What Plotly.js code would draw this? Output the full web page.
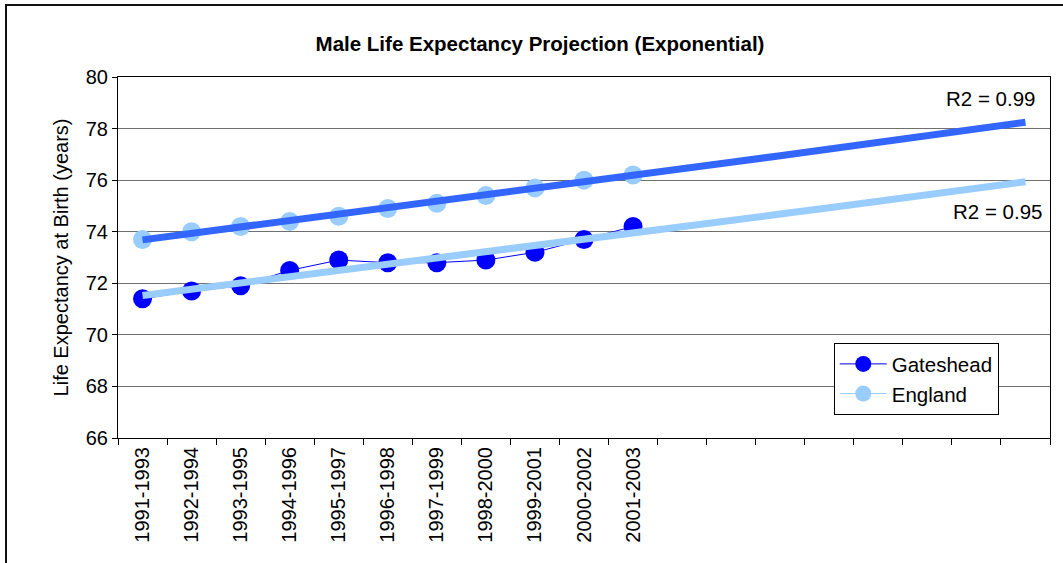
<!DOCTYPE html>
<html>
<head>
<meta charset="utf-8">
<script src="https://cdn.plot.ly/plotly-3.0.1.min.js"></script>
<style>
  html, body { margin: 0; padding: 0; overflow: hidden; background: #ffffff; }
  #wrap { position: relative; width: 1063px; height: 563px; }
  #chart { position: absolute; left: 0; top: 0; width: 1063px; height: 563px; }
  #frame { position: absolute; left: 5px; top: 4px; width: 1200px; height: 800px;
           border: 2px solid #111; pointer-events: none; }
</style>
</head>
<body>
<div id="wrap">
  <div id="chart"></div>
  <div id="frame"></div>
</div>
<script>
// ---- data ----
const periods = ['1991-1993', '1992-1994', '1993-1995', '1994-1996', '1995-1997',
                 '1996-1998', '1997-1999', '1998-2000', '1999-2001', '2000-2002', '2001-2003'];
const projectionLabels = ['', '', '', '', '', '', '', ''];   // 8 future (unlabelled) periods
const gateshead = [71.4, 71.7, 71.9, 72.5, 72.9, 72.8, 72.8, 72.9, 73.2, 73.7, 74.2];
const england   = [73.7, 74.0, 74.2, 74.4, 74.6, 74.9, 75.1, 75.4, 75.7, 76.0, 76.2];
const seriesNames = ['Gateshead', 'England'];
const r2Labels = ['R2 = 0.99', 'R2 = 0.95'];   // England trend, Gateshead trend
const yTicks = [66, 68, 70, 72, 74, 76, 78, 80];

// ---- helpers ----
const allLabels = periods.concat(projectionLabels);
const allIdx = allLabels.map((_, i) => i);
const dataIdx = periods.map((_, i) => i);

// Exponential trendline (as Excel does): fit ln(y) = ln(a) + b*x, forecast forward
function expTrend(ys, xsOut) {
  const n = ys.length;
  const xs = ys.map((_, i) => i);
  const ls = ys.map(v => Math.log(v));
  const mx = xs.reduce((s, v) => s + v, 0) / n;
  const ml = ls.reduce((s, v) => s + v, 0) / n;
  let sxy = 0, sxx = 0;
  for (let i = 0; i < n; i++) { sxy += (xs[i] - mx) * (ls[i] - ml); sxx += (xs[i] - mx) ** 2; }
  const b = sxy / sxx;
  const lnA = ml - b * mx;
  return xsOut.map(x => Math.exp(lnA + b * x));
}

const FONT = 'Liberation Sans, Arial, sans-serif';

const traces = [
  {
    x: dataIdx, y: gateshead, name: seriesNames[0], type: 'scatter', mode: 'lines+markers',
    line: { color: '#0000FF', width: 1 },
    marker: { color: '#0000FF', size: 19 }
  },
  {
    x: dataIdx, y: england, name: seriesNames[1], type: 'scatter', mode: 'lines+markers',
    line: { color: '#99CCFF', width: 1 },
    marker: { color: '#99CCFF', size: 19 }
  },
  {
    x: allIdx, y: expTrend(england, allIdx), type: 'scatter', mode: 'lines',
    line: { color: '#3366FF', width: 7 }, showlegend: false, hoverinfo: 'skip'
  },
  {
    x: allIdx, y: expTrend(gateshead, allIdx), type: 'scatter', mode: 'lines',
    line: { color: '#99CCFF', width: 7 }, showlegend: false, hoverinfo: 'skip'
  }
];

const layout = {
  width: 1063, height: 563,
  margin: { l: 118, r: 13, t: 77, b: 125, pad: 0 },
  paper_bgcolor: 'rgba(0,0,0,0)',
  plot_bgcolor: '#ffffff',
  font: { family: FONT, color: '#000000', size: 20 },
  title: {
    text: 'Male Life Expectancy Projection (Exponential)',
    font: { family: FONT, size: 20.5, weight: 'bold', color: '#000000' },
    xref: 'container', x: 0.508, xanchor: 'center',
    yref: 'container', y: 0.922, yanchor: 'middle'
  },
  xaxis: {
    type: 'category',
    range: [-0.5, allLabels.length - 0.5],
    tickmode: 'array', tickvals: allIdx, ticktext: allLabels,
    tickson: 'boundaries', ticks: 'outside', ticklen: 6, tickwidth: 1, tickcolor: '#000000',
    tickangle: -90, tickfont: { family: FONT, size: 20, color: '#000000' },
    showgrid: false, zeroline: false,
    showline: true, linecolor: '#000000', linewidth: 1, mirror: true
  },
  yaxis: {
    range: [66, 80], tickmode: 'array', tickvals: yTicks,
    ticks: 'outside', ticklen: 5, tickwidth: 1, tickcolor: '#000000',
    tickfont: { family: FONT, size: 20, color: '#000000' },
    showgrid: true, gridcolor: '#707070', gridwidth: 1, zeroline: false,
    showline: true, linecolor: '#000000', linewidth: 1, mirror: true,
    title: { text: 'Life Expectancy at Birth (years)', font: { family: FONT, size: 20, color: '#000000' } }
  },
  legend: {
    x: 0.768, y: 0.263, xanchor: 'left', yanchor: 'top',
    bgcolor: '#ffffff', bordercolor: '#000000', borderwidth: 1,
    font: { family: FONT, size: 20.5, color: '#000000' },
    itemwidth: 47
  },
  annotations: [
    { text: r2Labels[0], xref: 'paper', x: 0.986, xanchor: 'right',
      yref: 'y', y: 79.15, yanchor: 'middle', showarrow: false,
      font: { family: FONT, size: 20.5, color: '#000000' } },
    { text: r2Labels[1], xref: 'paper', x: 0.9936, xanchor: 'right',
      yref: 'y', y: 74.77, yanchor: 'middle', showarrow: false,
      font: { family: FONT, size: 20.5, color: '#000000' } }
  ],
  showlegend: true
};

Plotly.newPlot('chart', traces, layout, { displayModeBar: false, staticPlot: true });
</script>
</body>
</html>
